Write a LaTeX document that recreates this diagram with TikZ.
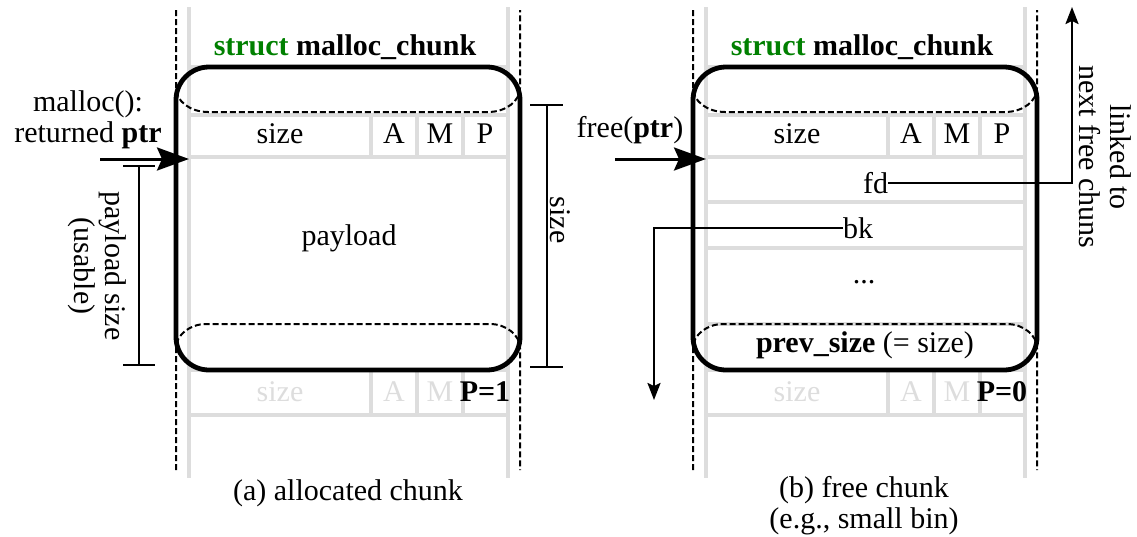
\documentclass[tikz,border=0pt]{standalone}
\usepackage{fontspec}
\setmainfont{Liberation Serif}
\usetikzlibrary{arrows.meta}
\definecolor{cellgray}{RGB}{221,221,221}
\definecolor{kwgreen}{RGB}{0,128,0}

% One chunk column: field grid, neighbouring chunks, chunk outline and header fields.
% #1 = horizontal offset (pt), #2 = name prefix, #3 = P bit shown for the next chunk
\newcommand\chunkpanel[3]{%
  \begin{scope}[xshift=#1pt, name prefix=#2-]
    % field grid
    \draw[grid] (189,7) -- (189,478);
    \draw[grid] (508,7) -- (508,478);
    \foreach \yy in {67,115,157,370,415} \draw[grid] (189,\yy) -- (508,\yy);
    \foreach \xx in {371,417,463} {
      \draw[grid] (\xx,115) -- (\xx,157);
      \draw[grid] (\xx,370) -- (\xx,415);
    }
    % previous and next chunks
    \draw[neighbour] (176,10) -- (176,88) .. controls (176,101) and (190,112) .. (208,112)
      -- (488,112) .. controls (506,112) and (520,101) .. (520,88) -- (520,10);
    \draw[neighbour] (176,470) -- (176,348) .. controls (176,335) and (190,324) .. (206,324)
      -- (490,324) .. controls (506,324) and (520,335) .. (520,348) -- (520,470);
    % this chunk
    \draw[chunkline] (176,67) rectangle (520,370);
    \node[anchor=base] (title) at (345,55) {\textcolor{kwgreen}{\bfseries struct} \textbf{malloc\_chunk}};
    \node[anchor=base] (size) at (280,143) {size};
    \node[anchor=base] (A) at (394,143) {A};
    \node[anchor=base] (M) at (440,143) {M};
    \node[anchor=base] (P) at (485,143) {P};
    \node[anchor=base, faded] (nsize) at (280,401) {size};
    \node[anchor=base, faded] (nA) at (394,401) {A};
    \node[anchor=base, faded] (nM) at (440,401) {M};
    \node[anchor=base] (nP) at (485,401) {\textbf{P=#3}};
  \end{scope}}

\begin{document}
\begin{tikzpicture}[x=1pt, y=-1pt,
  font=\fontsize{30}{31}\selectfont,
  every node/.style={inner sep=0pt, outer sep=0pt},
  grid/.style={draw=cellgray, line width=4.5pt},
  chunkline/.style={line width=4.8pt, rounded corners=33pt},
  neighbour/.style={line width=2pt, dash pattern=on 6pt off 3pt},
  faded/.style={text=cellgray},
  callarrow/.style={line width=3pt, -{Stealth[length=32pt, width=23pt, inset=5pt]}},
  linkarrow/.style={line width=2.2pt, -{Stealth[length=17pt, width=13pt, inset=3pt]}},
  dimline/.style={line width=2.2pt},
]
\useasboundingbox (0,0) rectangle (1137,536);

% ---------- (a) allocated chunk ----------
\chunkpanel{0}{a}{1}
\node[anchor=base] (payload) at (349,245) {payload};

\node[align=center] (mallocLbl) at (88,120) {malloc():\\returned \textbf{ptr}};
\coordinate (mStart) at (100,159);
\coordinate (mPtr) at (189,159);
\draw[callarrow] (mStart) -- (mPtr);

% usable payload size
\coordinate (puTop) at (139,166);
\coordinate (puBot) at (139,365);
\draw[dimline] (puTop) -- (puBot);
\draw[dimline] ([xshift=-16pt]puTop) -- ([xshift=16pt]puTop);
\draw[dimline] ([xshift=-16pt]puBot) -- ([xshift=16pt]puBot);
\node[rotate=-90, align=center] (puLbl) at (97,266) {payload size\\(usable)};

% whole chunk size
\coordinate (csTop) at (547,105);
\coordinate (csBot) at (547,367);
\draw[dimline] (csTop) -- (csBot);
\draw[dimline] ([xshift=-17pt]csTop) -- ([xshift=16pt]csTop);
\draw[dimline] ([xshift=-17pt]csBot) -- ([xshift=16pt]csBot);
\node[rotate=-90, anchor=base] (csLbl) at (550,220) {size};

\node[anchor=base] (capA) at (348,500) {(a) allocated chunk};

% ---------- (b) free chunk ----------
\begin{scope}[xshift=517pt]
  \foreach \yy in {202,248,324} \draw[grid] (189,\yy) -- (508,\yy);
\end{scope}
\chunkpanel{517}{b}{0}

\node[anchor=base] (freeLbl) at (630,137) {free(\textbf{ptr})};
\coordinate (fStart) at (615,159);
\coordinate (fPtr) at (706,159);
\draw[callarrow] (fStart) -- (fPtr);

\node[anchor=east] (fd) at (888,183) {fd};
\node[anchor=west] (bk) at (843,228) {bk};
\node[anchor=base] (dots) at (864,283) {...};
\node[anchor=base] (prevsize) at (865,352) {\textbf{prev\_size} (= size)};

\coordinate (fdEnd) at (1072,7);
\coordinate (bkEnd) at (654,400);
\draw[linkarrow] (fd.east) -| (fdEnd);
\draw[linkarrow] (bk.west) -| (bkEnd);

\node[rotate=-90, align=center] (linkLbl) at (1105,157) {linked to\\next free chuns};

\node[align=center] (capB) at (864,506) {(b) free chunk\\(e.g., small bin)};
\end{tikzpicture}
\end{document}
